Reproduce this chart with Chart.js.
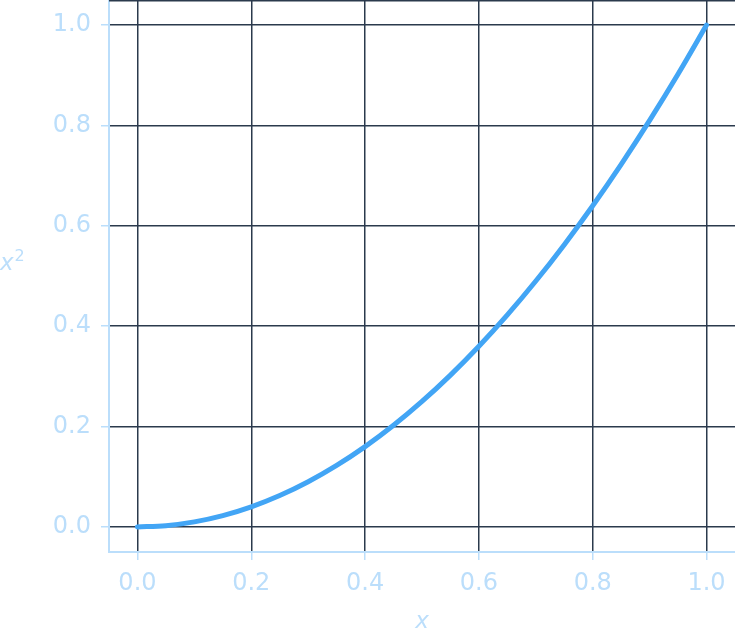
<!DOCTYPE html>
<html>
<head>
<meta charset="utf-8">
<script src="https://cdn.jsdelivr.net/npm/chart.js@4/dist/chart.umd.min.js"></script>
<style>
  html, body { margin: 0; padding: 0; background: #ffffff; }
  #wrap { width: 735px; height: 631px; position: relative; }
</style>
</head>
<body>
<div id="wrap"><canvas id="c"></canvas></div>
<script>
// Data (curve labelled x²)
const xValues = [0, 0.05, 0.1, 0.15, 0.2, 0.25, 0.3, 0.35, 0.4, 0.45, 0.5, 0.55, 0.6, 0.65, 0.7, 0.75, 0.8, 0.85, 0.9, 0.95, 1.0];
const yValues = [0, 0.0025, 0.01, 0.0225, 0.04, 0.0625, 0.09, 0.1225, 0.16, 0.2025, 0.25, 0.3025, 0.36, 0.4225, 0.49, 0.5625, 0.64, 0.7225, 0.81, 0.9025, 1.0];
const xTicks = [0, 0.2, 0.4, 0.6, 0.8, 1.0];
const yTicks = [0, 0.2, 0.4, 0.6, 0.8, 1.0];
const xTitle = 'x';
const yTitleBase = 'x';
const yTitleSup = '2';

const lineColor = '#42a5f5';
const axisColor = '#bbdefb';
const textColor = '#bbdefb';
const gridColor = '#2b3a4d';
const fontFamily = '"DejaVu Sans", sans-serif';

const points = xValues.map((x, i) => ({ x: x, y: yValues[i] }));

const extras = {
  id: 'extras',
  afterDraw(chart) {
    const ctx = chart.ctx;
    const a = chart.chartArea;
    ctx.save();
    // top border
    ctx.strokeStyle = gridColor;
    ctx.lineWidth = 1.5;
    ctx.beginPath();
    ctx.moveTo(a.left, a.top + 0.75);
    ctx.lineTo(a.right, a.top + 0.75);
    ctx.stroke();
    // y-axis title (horizontal, x with superscript 2)
    const yMid = (a.top + a.bottom) / 2;
    ctx.fillStyle = textColor;
    ctx.textBaseline = 'alphabetic';
    ctx.textAlign = 'left';
    ctx.font = 'italic 23px ' + fontFamily;
    ctx.fillText(yTitleBase, 0, yMid - 6);
    const w = ctx.measureText(yTitleBase).width;
    ctx.font = '16px ' + fontFamily;
    ctx.fillText(yTitleSup, w + 1, yMid - 15);
    ctx.restore();
  }
};

new Chart(document.getElementById('c'), {
  type: 'line',
  data: {
    datasets: [{
      data: points,
      borderColor: lineColor,
      borderWidth: 5,
      borderCapStyle: 'round',
      pointRadius: 0,
      fill: false,
      cubicInterpolationMode: 'monotone'
    }]
  },
  options: {
    responsive: true,
    maintainAspectRatio: false,
    animation: false,
    layout: { padding: 0 },
    plugins: { legend: { display: false }, tooltip: { enabled: false } },
    scales: {
      x: {
        type: 'linear',
        min: -0.05,
        max: 1.05,
        afterBuildTicks: (s) => { s.ticks = xTicks.map(v => ({ value: v })); },
        afterFit: (s) => { s.height = 79; s.paddingLeft = 0; s.paddingRight = 0; },
        grid: { color: gridColor, lineWidth: 1.5, tickColor: axisColor, tickLength: 8, drawTicks: true },
        border: { display: true, color: axisColor, width: 2 },
        ticks: {
          color: textColor,
          font: { family: fontFamily, size: 24 },
          padding: 9,
          maxRotation: 0,
          callback: (v) => v.toFixed(1)
        },
        title: {
          display: true,
          text: xTitle,
          color: textColor,
          font: { family: fontFamily, size: 23, style: 'italic' },
          padding: { top: 0, bottom: -5 }
        }
      },
      y: {
        type: 'linear',
        min: -0.05,
        max: 1.05,
        afterBuildTicks: (s) => { s.ticks = yTicks.map(v => ({ value: v })); },
        afterFit: (s) => { s.width = 109; s.paddingTop = 0; s.paddingBottom = 0; },
        grid: { color: gridColor, lineWidth: 1.5, tickColor: axisColor, tickLength: 8, drawTicks: true },
        border: { display: true, color: axisColor, width: 2 },
        ticks: {
          color: textColor,
          font: { family: fontFamily, size: 24 },
          padding: 10,
          callback: (v) => v.toFixed(1)
        }
      }
    }
  },
  plugins: [extras]
});
</script>
</body>
</html>
